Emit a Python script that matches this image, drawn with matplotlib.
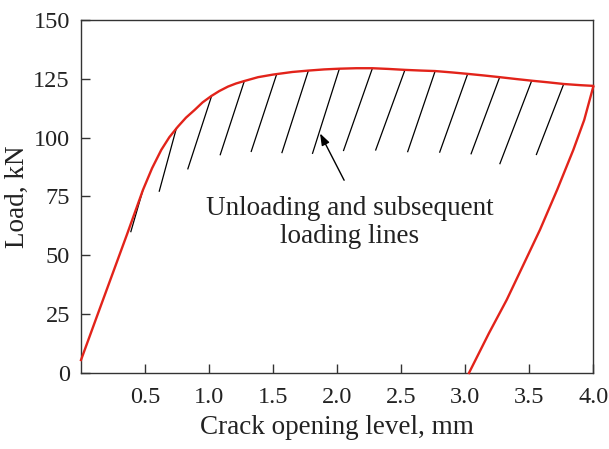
import matplotlib
matplotlib.use("Agg")
import matplotlib.pyplot as plt

plt.rcParams['font.family'] = ['Liberation Serif', 'DejaVu Serif']

# Envelope (loading) curve
env_x = [0.0, 0.12, 0.24, 0.36, 0.484, 0.555, 0.627, 0.69, 0.757, 0.82, 0.888, 0.95,
         1.018, 1.08, 1.148, 1.21, 1.278, 1.383, 1.5, 1.65, 1.776, 1.9, 2.018, 2.15,
         2.276, 2.4, 2.53, 2.66, 2.766, 2.9, 3.02, 3.15, 3.27, 3.4, 3.52, 3.65, 3.77,
         3.9, 4.0]
env_y = [5.5, 23.4, 41.2, 59.0, 77.8, 87.0, 94.8, 100.2, 104.7, 108.5, 111.8, 115.0,
         117.7, 119.8, 121.7, 123.0, 124.1, 125.7, 126.8, 127.9, 128.5, 129.0, 129.3, 129.5,
         129.5, 129.2, 128.8, 128.5, 128.3, 127.7, 127.1, 126.4, 125.7, 124.9, 124.2, 123.5, 122.8,
         122.3, 122.0]

# Final unloading line
unl_x = [3.03, 3.186, 3.325, 3.45, 3.585, 3.72, 3.845, 3.93, 4.0]
unl_y = [0.0, 16.9, 31.1, 45.4, 60.9, 78.0, 94.8, 107.5, 121.5]

# Unloading / subsequent loading lines (top point on envelope, bottom point)
hatch_x_top = [0.484, 0.746, 1.02, 1.276, 1.529, 1.776, 2.018, 2.276, 2.53, 2.766, 3.02, 3.27, 3.52, 3.77]
hatch_y_top = [77.8, 104.2, 117.7, 124.1, 127.1, 128.5, 129.3, 129.5, 128.8, 128.3, 127.1, 125.7, 124.2, 122.8]
hatch_x_bot = [0.388, 0.61, 0.833, 1.086, 1.328, 1.568, 1.807, 2.049, 2.3, 2.55, 2.8, 3.045, 3.27, 3.555]
hatch_y_bot = [59.8, 77.0, 86.5, 92.5, 93.9, 93.4, 93.1, 94.3, 94.5, 93.8, 93.6, 92.9, 88.7, 92.6]

x_ticks = [0.5, 1.0, 1.5, 2.0, 2.5, 3.0, 3.5, 4.0]
y_ticks = [0, 25, 50, 75, 100, 125, 150]

red = '#e2231a'
fs = 19.5
fs_tick = 17.5

fig = plt.figure(figsize=(6.09, 4.49), dpi=100)
ax = fig.add_axes([0.133, 0.1693, 0.841, 0.7862])

for xt, yt, xb, yb in zip(hatch_x_top, hatch_y_top, hatch_x_bot, hatch_y_bot):
    ax.plot([xb, xt], [yb, yt], color='black', lw=0.9, solid_capstyle='butt', zorder=2)

ax.plot(env_x, env_y, color=red, lw=1.7, zorder=3, clip_on=False, solid_joinstyle='round')
ax.plot(unl_x, unl_y, color=red, lw=1.7, zorder=3, clip_on=False, solid_joinstyle='round')

ax.annotate('', xy=(1.867, 101.8), xytext=(2.055, 81.9),
            arrowprops=dict(arrowstyle='-|>,head_length=0.7,head_width=0.25',
                            color='black', lw=1.0, shrinkA=0, shrinkB=0))
ax.text(2.10, 64.0, 'Unloading and subsequent\nloading lines', ha='center', va='center',
        fontsize=fs, linespacing=1.15, color='#222222')

ax.set_xlim(0, 4.0)
ax.set_ylim(0, 150)
ax.set_xticks(x_ticks)
ax.set_xticklabels([f'{v:.1f}' for v in x_ticks])
ax.set_yticks(y_ticks)
ax.set_yticklabels([str(v) for v in y_ticks])
ax.tick_params(direction='in', length=6.5, width=1.0, labelsize=fs_tick, colors='#333333',
               labelcolor='#222222')
ax.tick_params(axis='x', pad=10)
ax.tick_params(axis='y', pad=8)
for s in ax.spines.values():
    s.set_color('#333333')
    s.set_linewidth(1.0)

ax.set_xlabel('Crack opening level, mm', fontsize=fs, color='#222222', labelpad=5)
ax.set_ylabel('Load, kN', fontsize=fs, color='#222222', va='center')
ax.yaxis.set_label_coords(-0.124, 0.5)

fig.savefig('out.png', dpi=100)
